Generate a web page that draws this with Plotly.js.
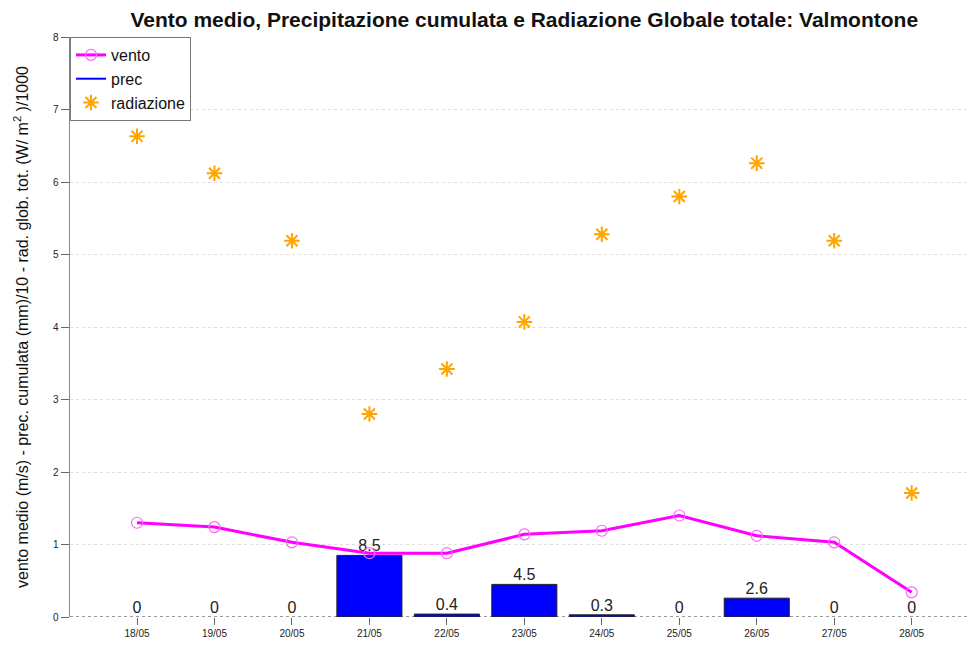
<!DOCTYPE html>
<html><head><meta charset="utf-8">
<script src="https://cdn.plot.ly/plotly-3.0.1.min.js"></script>
<style>html,body{margin:0;padding:0;background:#fff}#chart{width:969px;height:645px}</style>
</head><body><div id="chart"></div>
<script>
const days = ["18/05","19/05","20/05","21/05","22/05","23/05","24/05","25/05","26/05","27/05","28/05"];
const vento = [1.30,1.24,1.03,0.88,0.88,1.14,1.19,1.40,1.12,1.03,0.34];
const prec = [0,0,0,8.5,0.4,4.5,0.3,0,2.6,0,0];
const radiazione = [6.63,6.12,5.19,2.80,3.42,4.07,5.28,5.80,6.26,5.19,1.71];
const yTicks = [0,1,2,3,4,5,6,7,8];

const idx = days.map((d,i)=>i);
const precScaled = prec.map(v=>v/10);

const traces = [
  {type:'bar', x:idx, y:precScaled, width:0.84, marker:{color:'#0000FF', line:{color:'#222', width:prec.map(v=>v>0?1:0)}}, showlegend:false, hoverinfo:'skip'},
  {type:'scatter', mode:'text', x:idx, y:precScaled, text:prec.map(String), textposition:'top center', textfont:{family:'Liberation Sans, Arial', size:16, color:'#222'}, showlegend:false, hoverinfo:'skip', cliponaxis:false},
  {type:'scatter', mode:'lines+markers', name:'vento', x:idx, y:vento, line:{color:'#FF00FF', width:3}, marker:{symbol:'circle-open', size:11, color:'#FF66FF', line:{width:1.2, color:'#FF66FF'}}},
  {type:'scatter', mode:'lines', name:'prec', x:[null], y:[null], line:{color:'#0000FF', width:2}},
  {type:'scatter', mode:'markers', name:'radiazione', x:idx, y:radiazione, marker:{symbol:'asterisk-open', size:13, color:'#FFA500', line:{width:2, color:'#FFA500'}}}
];

const layout = {
  width:969, height:645,
  margin:{l:70, r:0, t:37, b:28},
  paper_bgcolor:'#fff', plot_bgcolor:'#fff',
  font:{family:'Liberation Sans, Arial', color:'#222'},
  title:{text:'<b>Vento medio, Precipitazione cumulata e Radiazione Globale totale: Valmontone</b>', x:0.541, xanchor:'center', y:0.97, yanchor:'middle', font:{size:21, color:'#111'}},
  xaxis:{range:[-0.865,10.74], tickvals:idx, ticktext:days, ticks:'outside', ticklen:7, tickcolor:'#666', tickfont:{size:10}, showgrid:false, zeroline:false, showline:false, fixedrange:true},
  yaxis:{range:[0,8], tickvals:yTicks, ticktext:yTicks.map(String), ticks:'outside', ticklen:8, tickcolor:'#666', tickfont:{size:10}, showgrid:true, gridcolor:'#ddd', griddash:'dot', gridwidth:1, zeroline:false, showline:true, linecolor:'#888', linewidth:1.5,
    title:{text:'vento medio (m/s) - prec. cumulata (mm)/10 - rad. glob. tot. (W/ m<sup>2</sup> )/1000', font:{size:16, color:'#111'}, standoff:20}},
  shapes:[{type:'line', xref:'paper', yref:'y', x0:0, x1:1, y0:0, y1:0, line:{color:'#333', width:1, dash:'dot'}}],
  legend:{x:0, y:1, xanchor:'left', yanchor:'top', bgcolor:'#fff', bordercolor:'#777', borderwidth:1, font:{size:16, color:'#111'}, tracegroupgap:0},
  bargap:0
};
Plotly.newPlot('chart', traces, layout, {displayModeBar:false, staticPlot:true});
</script></body></html>
